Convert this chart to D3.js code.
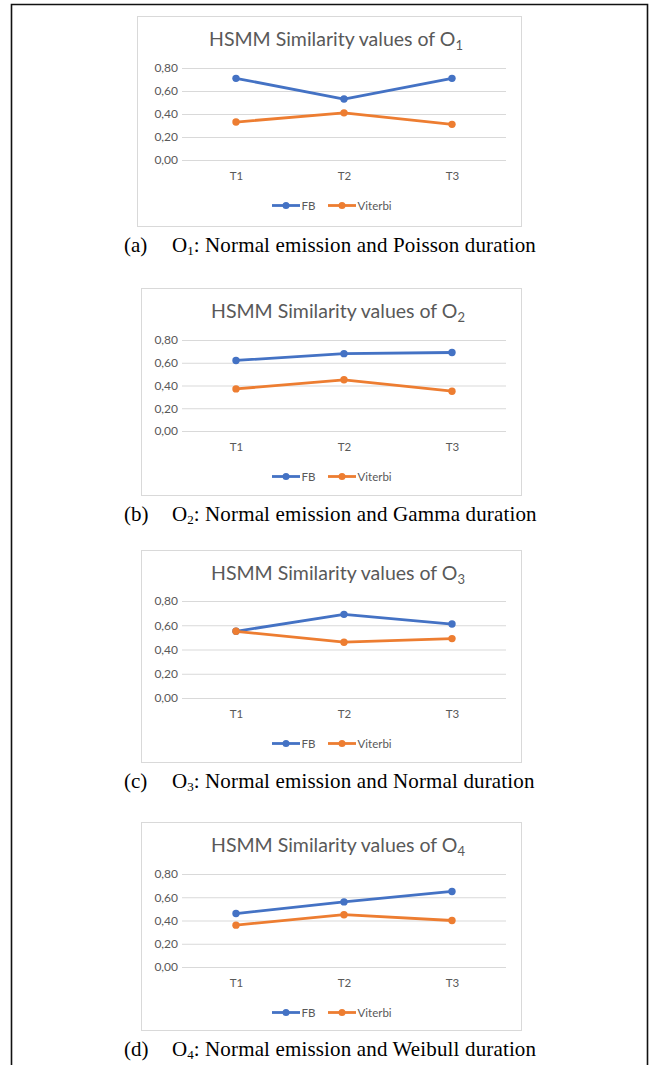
<!DOCTYPE html>
<html><head><meta charset="utf-8">
<script src="https://cdn.jsdelivr.net/npm/d3@7"></script>
<style>body{margin:0;background:#fff}svg{display:block}</style>
</head><body>
<script>
// ---- data ----
const categories = ["T1", "T2", "T3"];
const seriesNames = ["FB", "Viterbi"];
const yTicks = [0, 0.2, 0.4, 0.6, 0.8];
const fbValues = [
  [0.71, 0.53, 0.71],
  [0.62, 0.68, 0.69],
  [0.55, 0.69, 0.61],
  [0.46, 0.56, 0.65]
];
const viterbiValues = [
  [0.33, 0.41, 0.31],
  [0.37, 0.45, 0.35],
  [0.55, 0.46, 0.49],
  [0.36, 0.45, 0.40]
];
const titleSubs = ["1", "2", "3", "4"];
const captionLabels = ["(a)", "(b)", "(c)", "(d)"];
const captionTexts = [
  ": Normal emission and Poisson duration",
  ": Normal emission and Gamma duration",
  ": Normal emission and Normal duration",
  ": Normal emission and Weibull duration"
];

// ---- layout ----
const W = 654, H = 1065;
const colors = ["#4472C4", "#ED7D31"];
const panelTop = [16, 288, 550, 822];
const panelBottom = [226, 495, 762, 1030];
const panelLeft = [137, 141, 141, 141];
const panelRight = 521;
const gridTop = [68, 340, 601, 874];
const gridBottom = [160, 431, 698, 967];
const plotLeft = 182, plotRight = 506;

const svg = d3.select("body").append("svg").attr("width", W).attr("height", H);

// outer frame
svg.append("path")
  .attr("d", `M11.5,${H + 5}V4.5H647.5V${H + 5}`)
  .attr("fill", "none").attr("stroke", "#111").attr("stroke-width", 1.6);

const fontSans = "Lato, 'Open Sans', sans-serif";
const fontSerif = "'Liberation Serif', 'Times New Roman', serif";

for (let p = 0; p < 4; p++) {
  const g = svg.append("g");
  // panel box
  g.append("rect")
    .attr("x", panelLeft[p] + 0.5).attr("y", panelTop[p] + 0.5)
    .attr("width", panelRight - panelLeft[p]).attr("height", panelBottom[p] - panelTop[p])
    .attr("fill", "#fff").attr("stroke", "#d9d9d9").attr("stroke-width", 1);

  const x = d3.scalePoint().domain(categories).range([plotLeft, plotRight]).padding(0.5);
  const y = d3.scaleLinear().domain([0, 0.8]).range([gridBottom[p], gridTop[p]]);

  // title
  const t = g.append("text")
    .attr("x", (panelLeft[p] + panelRight) / 2 + 7).attr("y", panelTop[p] + 30)
    .attr("text-anchor", "middle").attr("font-family", fontSans)
    .attr("font-size", 19.5).attr("fill", "#595959");
  t.append("tspan").text("HSMM Similarity values of O");
  t.append("tspan").attr("font-size", 13).attr("dy", 4).text(titleSubs[p]);

  // y axis (gridlines + labels)
  const yAxis = d3.axisLeft(y).tickValues(yTicks)
    .tickSize(-(plotRight - plotLeft)).tickPadding(4)
    .tickFormat(d => d3.format(".2f")(d).replace(".", ","));
  const ya = g.append("g").attr("transform", `translate(${plotLeft},0)`).call(yAxis);
  ya.select(".domain").remove();
  ya.selectAll(".tick line").attr("stroke", "#d9d9d9").attr("stroke-width", 1);
  ya.selectAll(".tick text").attr("font-family", fontSans).attr("font-size", 12)
    .attr("fill", "#595959");

  // x axis labels
  const xAxis = d3.axisBottom(x).tickSize(0).tickPadding(12);
  const xa = g.append("g").attr("transform", `translate(0,${gridBottom[p]})`).call(xAxis);
  xa.select(".domain").remove();
  xa.selectAll(".tick text").attr("font-family", fontSans).attr("font-size", 11.5)
    .attr("fill", "#595959");

  // lines
  const seriesData = [fbValues[p], viterbiValues[p]];
  const line = d3.line().x((d, i) => x(categories[i])).y(d => y(d));
  seriesData.forEach((vals, s) => {
    g.append("path").datum(vals).attr("d", line)
      .attr("fill", "none").attr("stroke", colors[s]).attr("stroke-width", 2.8)
      .attr("stroke-linejoin", "round");
    g.selectAll(null).data(vals).enter().append("circle")
      .attr("cx", (d, i) => x(categories[i])).attr("cy", d => y(d))
      .attr("r", 3.7).attr("fill", colors[s]);
  });

  // legend
  const ly = gridBottom[p] + 45.5;
  const legendX = [272, 328];
  seriesNames.forEach((name, s) => {
    const lg = g.append("g");
    lg.append("line").attr("x1", legendX[s]).attr("x2", legendX[s] + 28)
      .attr("y1", ly).attr("y2", ly).attr("stroke", colors[s]).attr("stroke-width", 2.8);
    lg.append("circle").attr("cx", legendX[s] + 14).attr("cy", ly).attr("r", 3.5).attr("fill", colors[s]);
    lg.append("text").attr("x", legendX[s] + 29.5).attr("y", ly + 4)
      .attr("font-family", fontSans).attr("font-size", 11.5).attr("fill", "#595959").text(name);
  });

  // caption
  const cy = panelBottom[p] + 26;
  svg.append("text").attr("x", 124).attr("y", cy)
    .attr("font-family", fontSerif).attr("font-size", 21).attr("fill", "#000")
    .text(captionLabels[p]);
  const c = svg.append("text").attr("x", 172).attr("y", cy)
    .attr("font-family", fontSerif).attr("font-size", 21).attr("fill", "#000");
  c.append("tspan").text("O");
  c.append("tspan").attr("font-size", 13).attr("dy", 3).text(titleSubs[p]);
  c.append("tspan").attr("dy", -3).attr("letter-spacing", 0.15).text(captionTexts[p]);
}
</script>
</body></html>
